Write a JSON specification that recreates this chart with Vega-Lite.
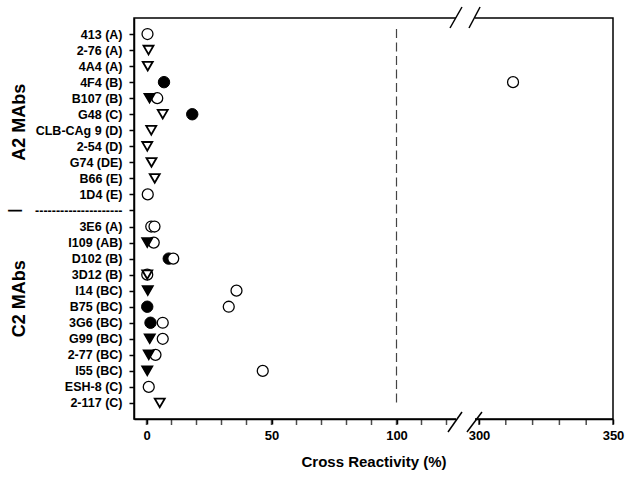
{
  "$schema": "https://vega.github.io/schema/vega-lite/v6.json",
  "width": 479,
  "height": 401,
  "autosize": {"type": "none"},
  "padding": {"left": 134, "top": 18, "right": 19, "bottom": 64},
  "background": "white",
  "config": {
    "view": {"stroke": "black", "strokeWidth": 1.5},
    "font": "Liberation Sans",
    "axis": {"grid": false, "domainColor": "black", "domainWidth": 1.5, "tickColor": "black", "tickWidth": 1.5, "labelColor": "black", "titleColor": "black", "labelFont": "Liberation Sans", "titleFont": "Liberation Sans"}
  },
  "datasets": {
    "pts": [
      {"mab": "4F4 (B)", "series": "fc", "value": 7},
      {"mab": "G48 (C)", "series": "fc", "value": 18.3},
      {"mab": "D102 (B)", "series": "fc", "value": 8.9},
      {"mab": "B75 (BC)", "series": "fc", "value": 0.3},
      {"mab": "3G6 (BC)", "series": "fc", "value": 1.6},
      {"mab": "413 (A)", "series": "oc", "value": 0.4},
      {"mab": "4F4 (B)", "series": "oc", "value": 312.7},
      {"mab": "B107 (B)", "series": "oc", "value": 4.3},
      {"mab": "1D4 (E)", "series": "oc", "value": 0.5},
      {"mab": "3E6 (A)", "series": "oc", "value": 1.9},
      {"mab": "3E6 (A)", "series": "oc", "value": 3.2},
      {"mab": "I109 (AB)", "series": "oc", "value": 2.9},
      {"mab": "D102 (B)", "series": "oc", "value": 10.7},
      {"mab": "3D12 (B)", "series": "oc", "value": 0.3},
      {"mab": "I14 (BC)", "series": "oc", "value": 36},
      {"mab": "B75 (BC)", "series": "oc", "value": 32.9},
      {"mab": "3G6 (BC)", "series": "oc", "value": 6.5},
      {"mab": "G99 (BC)", "series": "oc", "value": 6.5},
      {"mab": "2-77 (BC)", "series": "oc", "value": 3.6},
      {"mab": "I55 (BC)", "series": "oc", "value": 46.5},
      {"mab": "ESH-8 (C)", "series": "oc", "value": 0.9},
      {"mab": "B107 (B)", "series": "ft", "value": 1.2},
      {"mab": "I109 (AB)", "series": "ft", "value": 0.3},
      {"mab": "I14 (BC)", "series": "ft", "value": 0.5},
      {"mab": "G99 (BC)", "series": "ft", "value": 1.3},
      {"mab": "2-77 (BC)", "series": "ft", "value": 0.9},
      {"mab": "I55 (BC)", "series": "ft", "value": 0.3},
      {"mab": "2-76 (A)", "series": "ot", "value": 0.8},
      {"mab": "4A4 (A)", "series": "ot", "value": 0.5},
      {"mab": "G48 (C)", "series": "ot", "value": 6.5},
      {"mab": "CLB-CAg 9 (D)", "series": "ot", "value": 1.9},
      {"mab": "2-54 (D)", "series": "ot", "value": 0.3},
      {"mab": "G74 (DE)", "series": "ot", "value": 2},
      {"mab": "B66 (E)", "series": "ot", "value": 3.3},
      {"mab": "3D12 (B)", "series": "ot", "value": 0.3},
      {"mab": "2-117 (C)", "series": "ot", "value": 5.3}
    ],
    "groups": [
      {"label": "A2 MAbs", "anchor": "CLB-CAg 9 (D)"},
      {"label": "C2 MAbs", "anchor": "B75 (BC)"}
    ],
    "ticks": [
      {"t": 0}, {"t": 10}, {"t": 20}, {"t": 30}, {"t": 40}, {"t": 50}, {"t": 60}, {"t": 70}, {"t": 80}, {"t": 90}, {"t": 100}, {"t": 110}, {"t": 120},
      {"t": 300}, {"t": 310}, {"t": 320}, {"t": 330}, {"t": 340}, {"t": 350}
    ],
    "one": [{}]
  },
  "layer": [
    {
      "data": {"name": "pts"},
      "mark": {"type": "point", "filled": false, "opacity": 1, "stroke": "black"},
      "encoding": {
        "x": {
          "field": "value", "type": "quantitative",
          "scale": {"domain": [-5, 124, 300, 350], "range": [0, 322.5, 345, 479], "nice": false, "zero": false},
          "axis": {
            "values": [0, 50, 100, 300, 350],
            "title": "Cross Reactivity (%)",
            "tickSize": 5, "labelPadding": 5, "labelFontSize": 13, "labelFontWeight": "bold",
            "titleFontSize": 15, "titleFontWeight": "bold", "titlePadding": 12, "labelFlush": false, "labelOverlap": false
          }
        },
        "y": {
          "field": "mab", "type": "nominal",
          "scale": {"type": "point", "padding": 1, "domain": ["413 (A)", "2-76 (A)", "4A4 (A)", "4F4 (B)", "B107 (B)", "G48 (C)", "CLB-CAg 9 (D)", "2-54 (D)", "G74 (DE)", "B66 (E)", "1D4 (E)", "---------------------", "3E6 (A)", "I109 (AB)", "D102 (B)", "3D12 (B)", "I14 (BC)", "B75 (BC)", "3G6 (BC)", "G99 (BC)", "2-77 (BC)", "I55 (BC)", "ESH-8 (C)", "2-117 (C)"]},
          "axis": {"title": null, "tickSize": 5, "labelPadding": 7, "labelFontSize": 12.5, "labelFontWeight": "bold", "labelOverlap": false}
        },
        "shape": {"field": "series", "type": "nominal", "scale": {"domain": ["fc", "oc", "ft", "ot"], "range": ["circle", "circle", "triangle-down", "triangle-down"]}, "legend": null},
        "fill": {"field": "series", "type": "nominal", "scale": {"domain": ["fc", "oc", "ft", "ot"], "range": ["black", "white", "black", "white"]}, "legend": null},
        "size": {"field": "series", "type": "ordinal", "scale": {"domain": ["fc", "oc", "ft", "ot"], "range": [130, 100, 110, 90]}, "legend": null},
        "strokeWidth": {"field": "series", "type": "ordinal", "scale": {"domain": ["fc", "oc", "ft", "ot"], "range": [1, 1.8, 1, 1.6]}, "legend": null}
      }
    },
    {
      "data": {"name": "ticks"},
      "mark": {"type": "tick", "orient": "vertical", "color": "black", "thickness": 1.5, "size": 5, "yOffset": 3.5},
      "encoding": {"x": {"field": "t", "type": "quantitative"}, "y": {"value": 401}}
    },
    {
      "data": {"name": "one"},
      "mark": {"type": "rule", "color": "#444", "strokeWidth": 1.2, "strokeDash": [9, 4.5]},
      "encoding": {
        "x": {"datum": 100, "type": "quantitative"},
        "y": {"datum": "413 (A)", "type": "nominal"},
        "y2": {"datum": "2-117 (C)"},
        "yOffset": {"value": -5},
        "y2Offset": {"value": 2}
      }
    },
    {
      "data": {"name": "one"},
      "mark": {"type": "rule", "color": "white", "strokeWidth": 4},
      "encoding": {"x": {"datum": 123.8, "type": "quantitative"}, "x2": {"datum": 268.7}, "y": {"value": 0}}
    },
    {
      "data": {"name": "one"},
      "mark": {"type": "rule", "color": "white", "strokeWidth": 4},
      "encoding": {"x": {"datum": 123.8, "type": "quantitative"}, "x2": {"datum": 268.7}, "y": {"value": 401}}
    },
    {
      "data": {"name": "one"},
      "mark": {"type": "rule", "color": "black", "strokeWidth": 1.5},
      "encoding": {"x": {"datum": 121.4, "type": "quantitative"}, "x2": {"datum": 167}, "y": {"value": 10}, "y2": {"value": -11}}
    },
    {
      "data": {"name": "one"},
      "mark": {"type": "rule", "color": "black", "strokeWidth": 1.5},
      "encoding": {"x": {"datum": 221.8, "type": "quantitative"}, "x2": {"datum": 300.4}, "y": {"value": 10}, "y2": {"value": -11}}
    },
    {
      "data": {"name": "one"},
      "mark": {"type": "rule", "color": "black", "strokeWidth": 1.5},
      "encoding": {"x": {"datum": 120.6, "type": "quantitative"}, "x2": {"datum": 167}, "y": {"value": 414}, "y2": {"value": 394}}
    },
    {
      "data": {"name": "one"},
      "mark": {"type": "rule", "color": "black", "strokeWidth": 1.5},
      "encoding": {"x": {"datum": 206, "type": "quantitative"}, "x2": {"datum": 301.1}, "y": {"value": 414}, "y2": {"value": 394}}
    },
    {
      "data": {"name": "groups"},
      "mark": {"type": "text", "angle": 270, "align": "center", "baseline": "middle", "fontSize": 18, "fontWeight": "bold", "font": "Liberation Sans", "color": "black"},
      "encoding": {"text": {"field": "label"}, "y": {"field": "anchor", "type": "nominal"}, "yOffset": {"value": -8}, "x": {"value": -114}}
    },
    {
      "data": {"name": "one"},
      "mark": {"type": "text", "angle": 270, "align": "center", "baseline": "middle", "fontSize": 14, "fontWeight": "bold", "font": "Liberation Sans", "color": "black", "text": "|"},
      "encoding": {"y": {"datum": "---------------------", "type": "nominal"}, "x": {"value": -119}}
    }
  ]
}
